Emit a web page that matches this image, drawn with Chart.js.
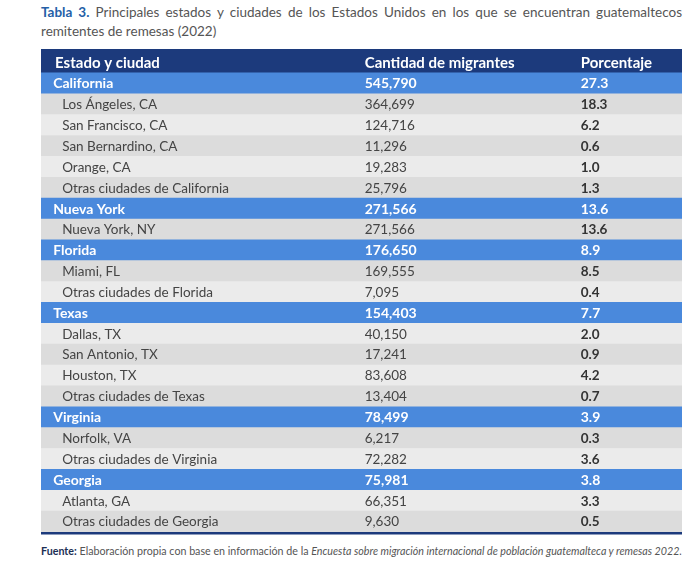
<!DOCTYPE html>
<html>
<head>
<meta charset="utf-8">
<script src="https://cdn.jsdelivr.net/npm/chart.js@4"></script>
<style>
  body { margin: 0; background: #fff; font-family: Lato, sans-serif; }
  #title {
    position: absolute; left: 41px; top: 3px; width: 641px;
    font-size: 13.5px; line-height: 19px; color: #555;
    text-align: justify; text-align-last: left;
  }
  #title b { color: #2460a7; }
  #wrap { position: absolute; left: 41px; top: 49px; }
  #note {
    position: absolute; left: 41px; top: 544px; width: 660px;
    font-size: 10.7px; color: #555; white-space: nowrap;
  }
  #note b { color: #1c2f55; }
</style>
</head>
<body>
<div id="title"><b>Tabla 3.</b> Principales estados y ciudades de los Estados Unidos en los que se encuentran guatemaltecos remitentes de remesas (2022)</div>
<div id="wrap"><canvas id="table" width="641" height="486"></canvas></div>
<div id="note"><b>Fuente:</b> Elaboración propia con base en información de la <i>Encuesta sobre migración internacional de población guatemalteca y remesas 2022.</i></div>
<script>
const headers = ['Estado y ciudad', 'Cantidad de migrantes', 'Porcentaje']
const states = ['California', 'Nueva York', 'Florida', 'Texas', 'Virginia', 'Georgia']
const places = [
  'California', 'Los Ángeles, CA', 'San Francisco, CA', 'San Bernardino, CA', 'Orange, CA',
  'Otras ciudades de California',
  'Nueva York', 'Nueva York, NY',
  'Florida', 'Miami, FL', 'Otras ciudades de Florida',
  'Texas', 'Dallas, TX', 'San Antonio, TX', 'Houston, TX', 'Otras ciudades de Texas',
  'Virginia', 'Norfolk, VA', 'Otras ciudades de Virginia',
  'Georgia', 'Atlanta, GA', 'Otras ciudades de Georgia'
]
const migrants = [
  545790, 364699, 124716, 11296, 19283, 25796,
  271566, 271566,
  176650, 169555, 7095,
  154403, 40150, 17241, 83608, 13404,
  78499, 6217, 72282,
  75981, 66351, 9630
]
const percents = [
  27.3, 18.3, 6.2, 0.6, 1.0, 1.3,
  13.6, 13.6,
  8.9, 8.5, 0.4,
  7.7, 2.0, 0.9, 4.2, 0.7,
  3.9, 0.3, 3.6,
  3.8, 3.3, 0.5
]

const labels = [headers[0], ...places]

// a state row is the first occurrence of the state name in places
function isStateRow(p) {
  return states.includes(places[p]) && places.indexOf(places[p]) === p
}

const NAVY = '#1c3a7c'
const BLUE = '#4a89dc'
const GRAY_DARK = '#dcdcdc'
const GRAY_LIGHT = '#ebebeb'

function rowColor(ctx) {
  const i = ctx.dataIndex
  if (i === 0) return NAVY
  if (isStateRow(i - 1)) return BLUE
  return (i - 1) % 2 === 1 ? GRAY_DARK : GRAY_LIGHT
}

// column anchors in x units (0..100 across the table)
const colX = { header: 2.2, state: 1.9, city: 3.3, migrants: 50.5, percent: 84.2 }

const cellText = {
  id: 'cellText',
  afterDatasetsDraw(chart) {
    const { ctx, scales: { x, y }, chartArea } = chart
    ctx.save()
    ctx.textBaseline = 'middle'
    ctx.textAlign = 'left'
    labels.forEach((label, i) => {
      const py = y.getPixelForValue(i) + 0.5
      if (i === 0) {
        ctx.fillStyle = '#ffffff'
        ctx.font = 'bold 15px Lato'
        ctx.fillText(headers[0], x.getPixelForValue(colX.header), py)
        ctx.fillText(headers[1], x.getPixelForValue(colX.migrants), py)
        ctx.fillText(headers[2], x.getPixelForValue(colX.percent), py)
        return
      }
      const p = i - 1
      const num = migrants[p].toLocaleString('en-US')
      const pct = percents[p].toFixed(1)
      if (isStateRow(p)) {
        ctx.fillStyle = '#ffffff'
        ctx.font = 'bold 14px Lato'
        ctx.fillText(label, x.getPixelForValue(colX.state), py)
        ctx.fillText(num, x.getPixelForValue(colX.migrants), py)
        ctx.fillText(pct, x.getPixelForValue(colX.percent), py)
      } else {
        ctx.fillStyle = '#444444'
        ctx.font = '13.5px Lato'
        ctx.fillText(label, x.getPixelForValue(colX.city), py)
        ctx.fillText(num, x.getPixelForValue(colX.migrants), py)
        ctx.fillStyle = '#333333'
        ctx.font = 'bold 13.5px Lato'
        ctx.fillText(pct, x.getPixelForValue(colX.percent), py)
      }
    })
    // closing rule under the last row
    ctx.fillStyle = NAVY
    ctx.fillRect(chartArea.left, chartArea.bottom, chartArea.right - chartArea.left, 2.5)
    ctx.restore()
  }
}

new Chart(document.getElementById('table'), {
  type: 'bar',
  data: {
    labels: labels,
    datasets: [
      {
        // body rows
        data: labels.map((l, i) => (i === 0 ? null : [0, 100])),
        backgroundColor: rowColor,
        barPercentage: 1,
        categoryPercentage: 1,
        grouped: false,
        order: 0
      },
      {
        // header row, a little taller than the rest
        data: labels.map((l, i) => (i === 0 ? [0, 100] : null)),
        backgroundColor: NAVY,
        barThickness: 27,
        grouped: false,
        clip: false,
        order: 1
      }
    ]
  },
  options: {
    indexAxis: 'y',
    responsive: false,
    animation: false,
    layout: { padding: { top: 3, bottom: 3, left: 0, right: 0 } },
    scales: {
      x: { type: 'linear', min: 0, max: 100, display: false },
      y: { type: 'category', display: false }
    },
    plugins: {
      legend: { display: false },
      tooltip: { enabled: false }
    }
  },
  plugins: [cellText]
})
</script>
</body>
</html>
